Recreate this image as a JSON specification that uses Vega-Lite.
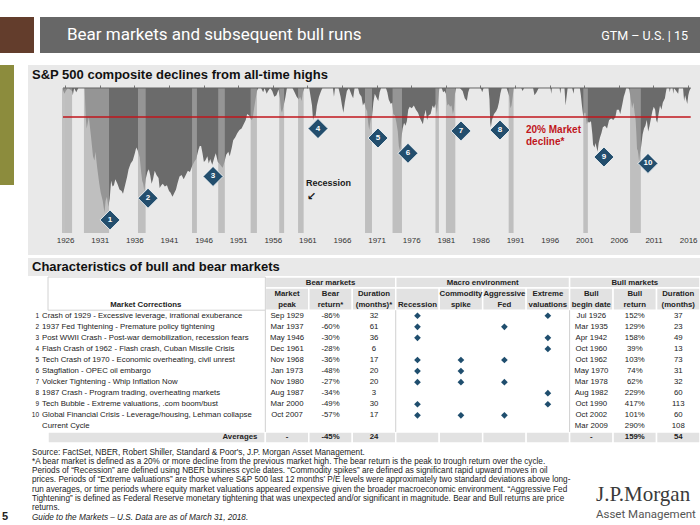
{
"$schema":"https://vega.github.io/schema/vega-lite/v6.json",
"background":"white",
"padding":{"top":17,"left":0,"right":0,"bottom":0},
"config":{"view":{"stroke":null},"font":"Liberation Sans","axis":{"labelFont":"Liberation Sans"}},
"datasets":{
"dd":[{"year":1926.6,"dd":-1},{"year":1926.8,"dd":-4},{"year":1927.0,"dd":-2},{"year":1927.3,"dd":0},{"year":1927.9,"dd":-2},{"year":1928.0,"dd":-5},{"year":1928.2,"dd":0},{"year":1928.5,"dd":-3},{"year":1928.8,"dd":0},{"year":1929.7,"dd":0},{"year":1929.85,"dd":-20},{"year":1930.0,"dd":-28},{"year":1930.3,"dd":-20},{"year":1930.6,"dd":-33},{"year":1930.9,"dd":-47},{"year":1931.1,"dd":-50},{"year":1931.25,"dd":-44},{"year":1931.5,"dd":-55},{"year":1931.8,"dd":-66},{"year":1932.0,"dd":-72},{"year":1932.3,"dd":-78},{"year":1932.55,"dd":-86},{"year":1932.7,"dd":-78},{"year":1932.9,"dd":-75},{"year":1933.1,"dd":-82},{"year":1933.3,"dd":-76},{"year":1933.5,"dd":-64},{"year":1933.7,"dd":-68},{"year":1933.9,"dd":-67},{"year":1934.1,"dd":-63},{"year":1934.4,"dd":-66},{"year":1934.7,"dd":-70},{"year":1935.0,"dd":-71},{"year":1935.2,"dd":-73},{"year":1935.5,"dd":-67},{"year":1935.8,"dd":-61},{"year":1936.0,"dd":-56},{"year":1936.3,"dd":-52},{"year":1936.6,"dd":-50},{"year":1936.9,"dd":-45},{"year":1937.1,"dd":-41},{"year":1937.3,"dd":-43},{"year":1937.6,"dd":-48},{"year":1937.8,"dd":-58},{"year":1937.95,"dd":-64},{"year":1938.1,"dd":-66},{"year":1938.25,"dd":-71},{"year":1938.45,"dd":-63},{"year":1938.7,"dd":-58},{"year":1938.9,"dd":-56},{"year":1939.1,"dd":-60},{"year":1939.3,"dd":-66},{"year":1939.5,"dd":-63},{"year":1939.75,"dd":-57},{"year":1940.0,"dd":-60},{"year":1940.3,"dd":-62},{"year":1940.45,"dd":-69},{"year":1940.7,"dd":-67},{"year":1940.9,"dd":-66},{"year":1941.2,"dd":-68},{"year":1941.5,"dd":-67},{"year":1941.8,"dd":-71},{"year":1942.0,"dd":-72},{"year":1942.3,"dd":-75},{"year":1942.5,"dd":-73},{"year":1942.8,"dd":-70},{"year":1943.0,"dd":-66},{"year":1943.3,"dd":-61},{"year":1943.6,"dd":-60},{"year":1943.9,"dd":-63},{"year":1944.2,"dd":-60},{"year":1944.5,"dd":-57},{"year":1944.8,"dd":-58},{"year":1945.1,"dd":-54},{"year":1945.4,"dd":-51},{"year":1945.7,"dd":-49},{"year":1946.0,"dd":-43},{"year":1946.2,"dd":-40},{"year":1946.4,"dd":-40},{"year":1946.6,"dd":-45},{"year":1946.8,"dd":-51},{"year":1947.0,"dd":-50},{"year":1947.3,"dd":-47},{"year":1947.5,"dd":-52},{"year":1947.7,"dd":-49},{"year":1948.0,"dd":-53},{"year":1948.3,"dd":-48},{"year":1948.5,"dd":-45},{"year":1948.8,"dd":-51},{"year":1949.0,"dd":-52},{"year":1949.3,"dd":-54},{"year":1949.5,"dd":-55},{"year":1949.8,"dd":-50},{"year":1950.0,"dd":-46},{"year":1950.3,"dd":-44},{"year":1950.5,"dd":-47},{"year":1950.8,"dd":-41},{"year":1951.0,"dd":-36},{"year":1951.3,"dd":-34},{"year":1951.6,"dd":-31},{"year":1951.9,"dd":-29},{"year":1952.2,"dd":-28},{"year":1952.5,"dd":-25},{"year":1952.8,"dd":-22},{"year":1953.0,"dd":-18},{"year":1953.3,"dd":-19},{"year":1953.6,"dd":-22},{"year":1953.8,"dd":-21},{"year":1954.0,"dd":-14},{"year":1954.2,"dd":-8},{"year":1954.4,"dd":-2},{"year":1954.6,"dd":0},{"year":1955.0,"dd":0},{"year":1955.3,"dd":-3},{"year":1955.5,"dd":0},{"year":1955.8,"dd":-4},{"year":1956.0,"dd":-2},{"year":1956.3,"dd":0},{"year":1956.6,"dd":-2},{"year":1956.9,"dd":-6},{"year":1957.2,"dd":-5},{"year":1957.5,"dd":-1},{"year":1957.7,"dd":-7},{"year":1957.85,"dd":-15},{"year":1958.0,"dd":-17},{"year":1958.2,"dd":-13},{"year":1958.5,"dd":-6},{"year":1958.7,"dd":0},{"year":1959.5,"dd":0},{"year":1959.8,"dd":-3},{"year":1960.1,"dd":-6},{"year":1960.4,"dd":-8},{"year":1960.6,"dd":-6},{"year":1960.8,"dd":-9},{"year":1961.0,"dd":-3},{"year":1961.2,"dd":0},{"year":1961.9,"dd":0},{"year":1962.1,"dd":-6},{"year":1962.3,"dd":-12},{"year":1962.45,"dd":-22},{"year":1962.6,"dd":-19},{"year":1962.8,"dd":-20},{"year":1963.0,"dd":-12},{"year":1963.3,"dd":-6},{"year":1963.6,"dd":-2},{"year":1963.8,"dd":0},{"year":1965.3,"dd":0},{"year":1965.45,"dd":-6},{"year":1965.6,"dd":0},{"year":1966.1,"dd":0},{"year":1966.4,"dd":-6},{"year":1966.6,"dd":-12},{"year":1966.8,"dd":-17},{"year":1967.0,"dd":-10},{"year":1967.3,"dd":-2},{"year":1967.6,"dd":0},{"year":1968.0,"dd":-5},{"year":1968.2,"dd":-7},{"year":1968.4,"dd":0},{"year":1968.9,"dd":0},{"year":1969.1,"dd":-4},{"year":1969.4,"dd":-6},{"year":1969.6,"dd":-12},{"year":1969.8,"dd":-10},{"year":1970.0,"dd":-14},{"year":1970.2,"dd":-16},{"year":1970.35,"dd":-24},{"year":1970.5,"dd":-29},{"year":1970.7,"dd":-22},{"year":1970.9,"dd":-20},{"year":1971.1,"dd":-10},{"year":1971.3,"dd":-4},{"year":1971.5,"dd":-6},{"year":1971.8,"dd":-9},{"year":1972.0,"dd":-3},{"year":1972.2,"dd":0},{"year":1972.9,"dd":0},{"year":1973.1,"dd":-3},{"year":1973.3,"dd":-8},{"year":1973.6,"dd":-11},{"year":1973.8,"dd":-10},{"year":1973.95,"dd":-18},{"year":1974.2,"dd":-19},{"year":1974.4,"dd":-24},{"year":1974.6,"dd":-30},{"year":1974.75,"dd":-40},{"year":1974.95,"dd":-44},{"year":1975.1,"dd":-35},{"year":1975.3,"dd":-28},{"year":1975.5,"dd":-24},{"year":1975.7,"dd":-26},{"year":1975.9,"dd":-23},{"year":1976.1,"dd":-15},{"year":1976.3,"dd":-13},{"year":1976.6,"dd":-14},{"year":1976.9,"dd":-12},{"year":1977.2,"dd":-15},{"year":1977.5,"dd":-17},{"year":1977.8,"dd":-21},{"year":1978.1,"dd":-24},{"year":1978.2,"dd":-25},{"year":1978.4,"dd":-19},{"year":1978.6,"dd":-15},{"year":1978.8,"dd":-22},{"year":1979.0,"dd":-19},{"year":1979.3,"dd":-18},{"year":1979.6,"dd":-12},{"year":1979.8,"dd":-14},{"year":1980.0,"dd":-11},{"year":1980.2,"dd":-18},{"year":1980.4,"dd":-8},{"year":1980.55,"dd":0},{"year":1980.9,"dd":0},{"year":1981.1,"dd":-3},{"year":1981.3,"dd":-2},{"year":1981.5,"dd":-4},{"year":1981.7,"dd":-12},{"year":1981.9,"dd":-11},{"year":1982.1,"dd":-13},{"year":1982.3,"dd":-12},{"year":1982.5,"dd":-18},{"year":1982.65,"dd":-15},{"year":1982.8,"dd":-4},{"year":1982.95,"dd":0},{"year":1983.5,"dd":0},{"year":1983.9,"dd":-2},{"year":1984.2,"dd":-7},{"year":1984.5,"dd":-9},{"year":1984.7,"dd":-3},{"year":1984.9,"dd":0},{"year":1986.5,"dd":0},{"year":1986.7,"dd":-3},{"year":1986.9,"dd":0},{"year":1987.6,"dd":0},{"year":1987.75,"dd":-8},{"year":1987.85,"dd":-24},{"year":1987.95,"dd":-27},{"year":1988.1,"dd":-22},{"year":1988.4,"dd":-18},{"year":1988.7,"dd":-16},{"year":1988.9,"dd":-14},{"year":1989.1,"dd":-10},{"year":1989.3,"dd":-4},{"year":1989.5,"dd":0},{"year":1990.2,"dd":0},{"year":1990.4,"dd":-3},{"year":1990.6,"dd":-6},{"year":1990.75,"dd":-14},{"year":1990.9,"dd":-12},{"year":1991.1,"dd":-5},{"year":1991.2,"dd":0},{"year":1992.3,"dd":0},{"year":1992.5,"dd":-2},{"year":1992.7,"dd":0},{"year":1994.0,"dd":0},{"year":1994.2,"dd":-5},{"year":1994.5,"dd":-3},{"year":1994.8,"dd":0},{"year":1996.5,"dd":0},{"year":1996.6,"dd":-4},{"year":1996.7,"dd":0},{"year":1997.8,"dd":0},{"year":1997.9,"dd":-4},{"year":1998.0,"dd":0},{"year":1998.5,"dd":0},{"year":1998.65,"dd":-12},{"year":1998.8,"dd":-6},{"year":1998.95,"dd":0},{"year":1999.6,"dd":0},{"year":1999.8,"dd":-4},{"year":1999.9,"dd":0},{"year":2000.7,"dd":0},{"year":2000.85,"dd":-5},{"year":2001.0,"dd":-12},{"year":2001.2,"dd":-20},{"year":2001.35,"dd":-17},{"year":2001.5,"dd":-17},{"year":2001.7,"dd":-25},{"year":2001.85,"dd":-23},{"year":2002.0,"dd":-24},{"year":2002.3,"dd":-23},{"year":2002.5,"dd":-32},{"year":2002.6,"dd":-39},{"year":2002.8,"dd":-41},{"year":2002.95,"dd":-38},{"year":2003.1,"dd":-41},{"year":2003.25,"dd":-44},{"year":2003.4,"dd":-38},{"year":2003.6,"dd":-34},{"year":2003.8,"dd":-31},{"year":2004.0,"dd":-27},{"year":2004.3,"dd":-26},{"year":2004.6,"dd":-28},{"year":2004.9,"dd":-22},{"year":2005.2,"dd":-21},{"year":2005.5,"dd":-22},{"year":2005.8,"dd":-20},{"year":2006.0,"dd":-15},{"year":2006.3,"dd":-15},{"year":2006.5,"dd":-18},{"year":2006.8,"dd":-11},{"year":2007.0,"dd":-6},{"year":2007.2,"dd":-3},{"year":2007.35,"dd":0},{"year":2007.65,"dd":0},{"year":2007.8,"dd":-1},{"year":2008.0,"dd":-8},{"year":2008.2,"dd":-14},{"year":2008.4,"dd":-10},{"year":2008.55,"dd":-17},{"year":2008.7,"dd":-22},{"year":2008.8,"dd":-31},{"year":2008.9,"dd":-42},{"year":2009.0,"dd":-43},{"year":2009.1,"dd":-46},{"year":2009.2,"dd":-51},{"year":2009.35,"dd":-44},{"year":2009.5,"dd":-40},{"year":2009.7,"dd":-32},{"year":2009.9,"dd":-28},{"year":2010.1,"dd":-26},{"year":2010.3,"dd":-22},{"year":2010.5,"dd":-30},{"year":2010.7,"dd":-26},{"year":2010.9,"dd":-21},{"year":2011.1,"dd":-16},{"year":2011.3,"dd":-13},{"year":2011.5,"dd":-15},{"year":2011.65,"dd":-22},{"year":2011.8,"dd":-24},{"year":2011.95,"dd":-19},{"year":2012.2,"dd":-12},{"year":2012.4,"dd":-15},{"year":2012.6,"dd":-10},{"year":2012.9,"dd":-7},{"year":2013.0,"dd":-4},{"year":2013.15,"dd":0},{"year":2013.5,"dd":0},{"year":2013.6,"dd":-3},{"year":2013.7,"dd":0},{"year":2014.0,"dd":0},{"year":2014.1,"dd":-4},{"year":2014.2,"dd":0},{"year":2014.8,"dd":-4},{"year":2014.9,"dd":0},{"year":2015.5,"dd":0},{"year":2015.65,"dd":-9},{"year":2015.8,"dd":-5},{"year":2015.95,"dd":-8},{"year":2016.1,"dd":-11},{"year":2016.25,"dd":-5},{"year":2016.4,"dd":-2},{"year":2016.6,"dd":0}],
"rec":[{"start":1926.75,"end":1927.9},{"start":1929.6,"end":1933.2},{"start":1937.35,"end":1938.45},{"start":1945.1,"end":1945.8},{"start":1948.85,"end":1949.8},{"start":1953.5,"end":1954.4},{"start":1957.6,"end":1958.3},{"start":1960.3,"end":1961.1},{"start":1969.9,"end":1970.9},{"start":1973.85,"end":1975.2},{"start":1980.0,"end":1980.5},{"start":1981.5,"end":1982.85},{"start":1990.5,"end":1991.2},{"start":2001.2,"end":2001.85},{"start":2007.9,"end":2009.45}],
"dia":[{"n":"1","year":1933.34,"dd":-91},{"n":"2","year":1938.79,"dd":-76},{"n":"3","year":1948.11,"dd":-61},{"n":"4","year":1963.16,"dd":-28},{"n":"5","year":1971.76,"dd":-34.5},{"n":"6","year":1976.06,"dd":-45},{"n":"7","year":1983.66,"dd":-29.6},{"n":"8","year":1989.25,"dd":-29},{"n":"9","year":2004.16,"dd":-47.6},{"n":"10","year":2010.47,"dd":-52}],
"tbl":[
{"row":"1","num":"1","desc":"Crash of 1929 - Excessive leverage, irrational exuberance","mp":"Sep 1929","br":"-86%","bd":"32","bb":"Jul 1926","bret":"152%","bdur":"37"},
{"row":"2","num":"2","desc":"1937 Fed Tightening - Premature policy tightening","mp":"Mar 1937","br":"-60%","bd":"61","bb":"Mar 1935","bret":"129%","bdur":"23"},
{"row":"3","num":"3","desc":"Post WWII Crash - Post-war demobilization, recession fears","mp":"May 1946","br":"-30%","bd":"36","bb":"Apr 1942","bret":"158%","bdur":"49"},
{"row":"4","num":"4","desc":"Flash Crash of 1962 - Flash crash, Cuban Missile Crisis","mp":"Dec 1961","br":"-28%","bd":"6","bb":"Oct 1960","bret":"39%","bdur":"13"},
{"row":"5","num":"5","desc":"Tech Crash of 1970 - Economic overheating, civil unrest","mp":"Nov 1968","br":"-36%","bd":"17","bb":"Oct 1962","bret":"103%","bdur":"73"},
{"row":"6","num":"6","desc":"Stagflation - OPEC oil embargo","mp":"Jan 1973","br":"-48%","bd":"20","bb":"May 1970","bret":"74%","bdur":"31"},
{"row":"7","num":"7","desc":"Volcker Tightening - Whip Inflation Now","mp":"Nov 1980","br":"-27%","bd":"20","bb":"Mar 1978","bret":"62%","bdur":"32"},
{"row":"8","num":"8","desc":"1987 Crash - Program trading, overheating markets","mp":"Aug 1987","br":"-34%","bd":"3","bb":"Aug 1982","bret":"229%","bdur":"60"},
{"row":"9","num":"9","desc":"Tech Bubble - Extreme valuations, .com boom/bust","mp":"Mar 2000","br":"-49%","bd":"30","bb":"Oct 1990","bret":"417%","bdur":"113"},
{"row":"10","num":"10","desc":"Global Financial Crisis - Leverage/housing, Lehman collapse","mp":"Oct 2007","br":"-57%","bd":"17","bb":"Oct 2002","bret":"101%","bdur":"60"},
{"row":"cur","num":"","desc":"Current Cycle","mp":"","br":"","bd":"","bb":"Mar 2009","bret":"290%","bdur":"108"}],
"avg":[{"row":"avg","mp":"-","br":"-45%","bd":"24","bb":"-","bret":"159%","bdur":"54"}],
"hdr":[{"c":"mp","h1":"Market","h2":"peak"},{"c":"br","h1":"Bear","h2":"return*"},{"c":"bd","h1":"Duration","h2":"(months)*"},{"c":"rec","h1":"","h2":"Recession"},{"c":"com","h1":"Commodity","h2":"spike"},{"c":"agg","h1":"Aggressive","h2":"Fed"},{"c":"ext","h1":"Extreme","h2":"valuations"},{"c":"bb","h1":"Bull","h2":"begin date"},{"c":"bret","h1":"Bull","h2":"return"},{"c":"bdur","h1":"Duration","h2":"(months)"}],
"gray":[{"x0":"mp","x1":"bd","y0":"g","y1":"g"},{"x0":"rec","x1":"ext","y0":"g","y1":"g"},{"x0":"bb","x1":"bdur","y0":"g","y1":"g"},
{"x0":"mp","x1":"mp","y0":"h1","y1":"h2"},{"x0":"br","x1":"br","y0":"h1","y1":"h2"},{"x0":"bd","x1":"bd","y0":"h1","y1":"h2"},{"x0":"rec","x1":"rec","y0":"h1","y1":"h2"},{"x0":"com","x1":"com","y0":"h1","y1":"h2"},{"x0":"agg","x1":"agg","y0":"h1","y1":"h2"},{"x0":"ext","x1":"ext","y0":"h1","y1":"h2"},{"x0":"bb","x1":"bb","y0":"h1","y1":"h2"},{"x0":"bret","x1":"bret","y0":"h1","y1":"h2"},{"x0":"bdur","x1":"bdur","y0":"h1","y1":"h2"},
{"x0":"c0","x1":"c4","y0":"avg","y1":"avg"},{"x0":"mp","x1":"mp","y0":"avg","y1":"avg"},{"x0":"br","x1":"br","y0":"avg","y1":"avg"},{"x0":"bd","x1":"bd","y0":"avg","y1":"avg"},{"x0":"rec","x1":"rec","y0":"avg","y1":"avg"},{"x0":"com","x1":"com","y0":"avg","y1":"avg"},{"x0":"agg","x1":"agg","y0":"avg","y1":"avg"},{"x0":"ext","x1":"ext","y0":"avg","y1":"avg"},{"x0":"bb","x1":"bb","y0":"avg","y1":"avg"},{"x0":"bret","x1":"bret","y0":"avg","y1":"avg"},{"x0":"bdur","x1":"bdur","y0":"avg","y1":"avg"}],
"seps":[{"c":"mp","r0":"1","r1":"cur"},{"c":"rec","r0":"1","r1":"cur"},{"c":"bb","r0":"1","r1":"cur"}],
"mac":[{"r":"1","c":"rec"},{"r":"1","c":"ext"},{"r":"2","c":"rec"},{"r":"2","c":"agg"},{"r":"3","c":"rec"},{"r":"3","c":"ext"},{"r":"4","c":"ext"},{"r":"5","c":"rec"},{"r":"5","c":"com"},{"r":"5","c":"agg"},{"r":"6","c":"rec"},{"r":"6","c":"com"},{"r":"7","c":"rec"},{"r":"7","c":"com"},{"r":"7","c":"agg"},{"r":"8","c":"ext"},{"r":"9","c":"rec"},{"r":"9","c":"ext"},{"r":"10","c":"rec"},{"r":"10","c":"com"},{"r":"10","c":"agg"}]
},
"spacing":12,
"vconcat":[
{"spacing":6,"bounds":"flush","hconcat":[
 {"width":34,"height":36,"data":{"values":[{}]},"mark":{"type":"rect","fill":"#633d2c"},"encoding":{}},
 {"spacing":0,"bounds":"flush","hconcat":[
  {"width":560,"height":36,"data":{"values":[{}]},"mark":{"type":"rect","fill":"#676767"},"encoding":{},
   "title":{"text":"Bear markets and subsequent bull runs","anchor":"start","frame":"group","dx":27,"offset":-27,"font":"Roboto","fontSize":17,"fontWeight":"normal","color":"#ffffff"}},
  {"width":100,"height":36,"data":{"values":[{}]},"mark":{"type":"rect","fill":"#676767"},"encoding":{},
   "title":{"text":"GTM – U.S.  |  15","anchor":"end","frame":"group","dx":-12,"offset":-25.5,"font":"Roboto","fontSize":12.5,"fontWeight":"normal","color":"#ffffff"}}
 ]}
]},
{"spacing":3,"vconcat":[
 {"spacing":14,"hconcat":[
  {"width":14,"height":120,"data":{"values":[{}]},"mark":{"type":"rect","fill":"#8c8c3d"},"encoding":{}},
  {"width":672,"height":190,
   "view":{"fill":"#e9e9e9","stroke":null},
   "title":{"text":"S&P 500 composite declines from all-time highs","anchor":"start","frame":"group","dx":4,"offset":-16.5,"fontSize":13,"fontWeight":"bold","color":"#111111"},
   "resolve":{"axis":{"x":"independent"}},
   "layer":[
    {"data":{"name":"dd"},"mark":{"type":"area","color":"#6b6b6b","interpolate":"linear"},
     "encoding":{
      "x":{"field":"year","type":"quantitative","scale":{"domain":[1921.58,2017.93],"nice":false,"zero":false},
           "axis":{"orient":"bottom","offset":-22,"values":[1926.9,1931.86,1936.83,1941.79,1946.75,1951.71,1956.68,1961.64,1966.6,1971.56,1976.53,1981.49,1986.45,1991.41,1996.38,2001.34,2006.3,2011.26,2016.23],"labelExpr":"format(floor(datum.value),'d')","domain":false,"ticks":false,"grid":false,"title":null,"labelFontSize":8,"labelColor":"#333333","labelPadding":3,"labelFlush":false,"labelOverlap":false}},
      "y":{"field":"dd","type":"quantitative","scale":{"domain":[-115.17,15.86],"nice":false,"zero":false},
           "axis":{"orient":"left","offset":-35,"values":[0,-20,-40,-60,-80,-100],"labelExpr":"datum.value + '%'","domain":false,"ticks":true,"tickSize":4,"tickColor":"#999999","grid":false,"title":null,"labelFontSize":8,"labelColor":"#333333","labelPadding":2}},
      "y2":{"datum":0}}},
    {"data":{"name":"rec"},"mark":{"type":"rect","color":"#aaaaaa","opacity":0.67},
     "encoding":{"x":{"field":"start","type":"quantitative","axis":null},"x2":{"field":"end"},"y":{"datum":-100,"axis":null},"y2":{"datum":0}}},
    {"data":{"values":[{}]},"mark":{"type":"rule","color":"#666666","strokeWidth":1},
     "encoding":{"x":{"datum":1926.6,"type":"quantitative","axis":{"orient":"top","offset":-23,"values":[1926.9,1931.86,1936.83,1941.79,1946.75,1951.71,1956.68,1961.64,1966.6,1971.56,1976.53,1981.49,1986.45,1991.41,1996.38,2001.34,2006.3,2011.26,2016.23],"labels":false,"domain":false,"ticks":true,"tickSize":3,"tickColor":"#777777","grid":false,"title":null}},"x2":{"datum":2016.6},"y":{"datum":0,"axis":null}}},
    {"data":{"values":[{}]},"mark":{"type":"rule","color":"#999999","strokeWidth":1},
     "encoding":{"x":{"datum":1926.6,"type":"quantitative","axis":null},"y":{"datum":0,"axis":null},"y2":{"datum":-100}}},
    {"data":{"values":[{}]},"mark":{"type":"rule","color":"#c0161c","strokeWidth":1.5},
     "encoding":{"x":{"datum":1926.6,"type":"quantitative","axis":null},"x2":{"datum":2016.6},"y":{"datum":-20,"axis":null}}},
    {"data":{"name":"dia"},"mark":{"type":"point","shape":"diamond","filled":true,"size":400,"color":"#234e6d","stroke":"#ffffff","strokeWidth":0.8,"opacity":1},
     "encoding":{"x":{"field":"year","type":"quantitative","axis":null},"y":{"field":"dd","type":"quantitative","axis":null}}},
    {"data":{"name":"dia"},"mark":{"type":"text","color":"#ffffff","fontSize":8,"fontWeight":"bold","baseline":"middle","align":"center"},
     "encoding":{"x":{"field":"year","type":"quantitative","axis":null},"y":{"field":"dd","type":"quantitative","axis":null},"text":{"field":"n"}}},
    {"data":{"values":[{"year":1961.44,"dd":-65.5,"t":"Recession"}]},"mark":{"type":"text","color":"#1a1a1a","fontSize":9,"fontWeight":"bold","baseline":"middle","align":"left"},
     "encoding":{"x":{"field":"year","type":"quantitative","axis":null},"y":{"field":"dd","type":"quantitative","axis":null},"text":{"field":"t"}}},
    {"data":{"values":[{"year":1962.2,"dd":-75.5,"t":"↙"}]},"mark":{"type":"text","color":"#1a1a1a","fontSize":11,"fontWeight":"bold","baseline":"middle","align":"center","font":"DejaVu Sans"},
     "encoding":{"x":{"field":"year","type":"quantitative","axis":null},"y":{"field":"dd","type":"quantitative","axis":null},"text":{"field":"t"}}},
    {"data":{"values":[{"year":1992.98,"dd":-29,"t":"20% Market\ndecline*"}]},"mark":{"type":"text","color":"#c0161c","fontSize":10,"fontWeight":"bold","baseline":"middle","align":"left","lineBreak":"\n","lineHeight":12},
     "encoding":{"x":{"field":"year","type":"quantitative","axis":null},"y":{"field":"dd","type":"quantitative","axis":null},"text":{"field":"t"}}}
   ]}
 ]},
 {"spacing":14,"hconcat":[
  {"width":14,"height":1,"data":{"values":[{}]},"mark":{"type":"rect","fill":"#ffffff"},"encoding":{}},
  {"spacing":0,"vconcat":[
   {"width":672,"height":18,"data":{"values":[{}]},"mark":{"type":"rect","fill":"#e9e9e9"},"encoding":{},
    "title":{"text":"Characteristics of bull and bear markets","anchor":"start","frame":"group","dx":4,"offset":-16,"fontSize":13,"fontWeight":"bold","color":"#111111"}},
   {"width":672,"height":167,
    "view":{"fill":"#ffffff","stroke":null},
    "layer":[
     {"data":{"name":"gray"},"mark":{"type":"rect","fill":"#e2e2e2","stroke":"#ffffff","strokeWidth":1.5},
      "encoding":{
       "x":{"field":"x0","type":"nominal","bandPosition":0,"axis":null,"scale":{"type":"band","domain":["c0","c1","c2","c3","c4","mp","br","bd","rec","com","agg","ext","bb","bret","bdur"],"range":[20,672],"paddingInner":0,"paddingOuter":0}},
       "x2":{"field":"x1","bandPosition":1},
       "y":{"field":"y0","type":"nominal","bandPosition":0,"axis":null,"scale":{"type":"band","domain":["g","h1","h2","1","2","3","4","5","6","7","8","9","10","cur","avg"],"range":[1,167],"paddingInner":0,"paddingOuter":0}},
       "y2":{"field":"y1","bandPosition":1}}},
     {"data":{"values":[{"x0":"c0","x1":"c4","y0":"g","y1":"h2"}]},"mark":{"type":"rect","fill":"#ffffff","stroke":"#d2d2d2","strokeWidth":1},
      "encoding":{"x":{"field":"x0","type":"nominal","bandPosition":0,"axis":null},"x2":{"field":"x1","bandPosition":1},"y":{"field":"y0","type":"nominal","bandPosition":0,"axis":null},"y2":{"field":"y1","bandPosition":1}}},
     {"data":{"name":"seps"},"mark":{"type":"rule","color":"#d0d0d0","strokeWidth":1},
      "encoding":{"x":{"field":"c","type":"nominal","bandPosition":0,"axis":null},"y":{"field":"r0","type":"nominal","bandPosition":0,"axis":null},"y2":{"field":"r1","bandPosition":1}}},
     {"data":{"values":[{"c":"br","r":"g","t":"Bear markets"},{"c":"bret","r":"g","t":"Bull markets"}]},"mark":{"type":"text","fontWeight":"bold","fontSize":7.8,"color":"#222222","baseline":"middle"},
      "encoding":{"x":{"field":"c","type":"nominal","axis":null},"y":{"field":"r","type":"nominal","axis":null},"text":{"field":"t"}}},
     {"data":{"values":[{"c":"com","r":"g","t":"Macro environment"}]},"mark":{"type":"text","fontWeight":"bold","fontSize":7.8,"color":"#222222","baseline":"middle"},
      "encoding":{"x":{"field":"c","type":"nominal","bandPosition":1,"axis":null},"y":{"field":"r","type":"nominal","axis":null},"text":{"field":"t"}}},
     {"data":{"name":"hdr"},"transform":[{"fold":["h1","h2"],"as":["r","t"]}],"mark":{"type":"text","fontWeight":"bold","fontSize":7.8,"color":"#222222","baseline":"middle"},
      "encoding":{"x":{"field":"c","type":"nominal","axis":null},"y":{"field":"r","type":"nominal","axis":null},"text":{"field":"t"}}},
     {"data":{"values":[{"c":"c2","r":"h2","t":"Market Corrections"}]},"mark":{"type":"text","fontWeight":"bold","fontSize":7.8,"color":"#222222","baseline":"middle"},
      "encoding":{"x":{"field":"c","type":"nominal","bandPosition":0.25,"axis":null},"y":{"field":"r","type":"nominal","axis":null},"text":{"field":"t"}}},
     {"data":{"name":"tbl"},"mark":{"type":"text","fontSize":6.5,"color":"#222222","baseline":"middle","align":"right","dx":-9},
      "encoding":{"x":{"datum":"c0","type":"nominal","bandPosition":0,"axis":null},"y":{"field":"row","type":"nominal","axis":null},"text":{"field":"num"}}},
     {"data":{"name":"tbl"},"mark":{"type":"text","fontSize":7.8,"color":"#222222","baseline":"middle","align":"left","dx":-6},
      "encoding":{"x":{"datum":"c0","type":"nominal","bandPosition":0,"axis":null},"y":{"field":"row","type":"nominal","axis":null},"text":{"field":"desc"}}},
     {"data":{"name":"tbl"},"transform":[{"fold":["mp","br","bd","bb","bret","bdur"],"as":["c","t"]}],"mark":{"type":"text","fontSize":7.8,"color":"#222222","baseline":"middle"},
      "encoding":{"x":{"field":"c","type":"nominal","axis":null},"y":{"field":"row","type":"nominal","axis":null},"text":{"field":"t"}}},
     {"data":{"name":"avg"},"transform":[{"fold":["mp","br","bd","bb","bret","bdur"],"as":["c","t"]}],"mark":{"type":"text","fontSize":7.8,"fontWeight":"bold","color":"#222222","baseline":"middle"},
      "encoding":{"x":{"field":"c","type":"nominal","axis":null},"y":{"field":"row","type":"nominal","axis":null},"text":{"field":"t"}}},
     {"data":{"values":[{"t":"Averages"}]},"mark":{"type":"text","fontSize":7.8,"fontWeight":"bold","color":"#222222","baseline":"middle","align":"right","dx":-8},
      "encoding":{"x":{"datum":"c4","type":"nominal","bandPosition":1,"axis":null},"y":{"datum":"avg","type":"nominal","axis":null},"text":{"field":"t"}}},
     {"data":{"name":"mac"},"mark":{"type":"point","shape":"diamond","filled":true,"size":45,"color":"#1f4e6e","opacity":1},
      "encoding":{"x":{"field":"c","type":"nominal","axis":null},"y":{"field":"r","type":"nominal","axis":null}}}
    ]}
  ]}
 ]},
 {"spacing":12,"bounds":"flush","hconcat":[
  {"width":20,"height":1,"data":{"values":[{}]},"mark":{"type":"rect","fill":"#ffffff"},"encoding":{},
   "title":{"text":"5","anchor":"start","frame":"group","dx":2,"offset":0,"fontSize":11,"fontWeight":"bold","color":"#222222"}},
  {"width":552,"height":1,"data":{"values":[{}]},"mark":{"type":"rect","fill":"#ffffff"},"encoding":{},
   "title":{"text":["Source: FactSet, NBER, Robert Shiller, Standard & Poor's, J.P. Morgan Asset Management.","*A bear market is defined as a 20% or more decline from the previous market high. The bear return is the peak to trough return over the cycle.","Periods of “Recession” are defined using NBER business cycle dates. “Commodity spikes” are defined as significant rapid upward moves in oil","prices. Periods of “Extreme valuations” are those where S&P 500 last 12 months’ P/E levels were approximately two standard deviations above long-","run averages, or time periods where equity market valuations appeared expensive given the broader macroeconomic environment. “Aggressive Fed","Tightening” is defined as Federal Reserve monetary tightening that was unexpected and/or significant in magnitude. Bear and Bull returns are price","returns."],
    "subtitle":"Guide to the Markets – U.S. Data are as of March 31, 2018.","anchor":"start","frame":"group","offset":0,"fontSize":8.2,"fontWeight":"normal","lineHeight":9.2,"color":"#222222","subtitleFontSize":8.2,"subtitleFontStyle":"italic","subtitleLineHeight":9.2,"subtitlePadding":1.5,"subtitleColor":"#222222"}},
  {"width":104,"height":1,"data":{"values":[{}]},"mark":{"type":"rect","fill":"#ffffff"},"encoding":{},
   "title":{"text":"J.P.Morgan","subtitle":"Asset Management","anchor":"start","frame":"group","offset":2,"font":"Liberation Serif","fontSize":21,"fontWeight":"normal","color":"#3a3a3a","subtitleFont":"Roboto","subtitleFontSize":11.5,"subtitleColor":"#555555","subtitlePadding":4}}
 ]}
]}
]
}
